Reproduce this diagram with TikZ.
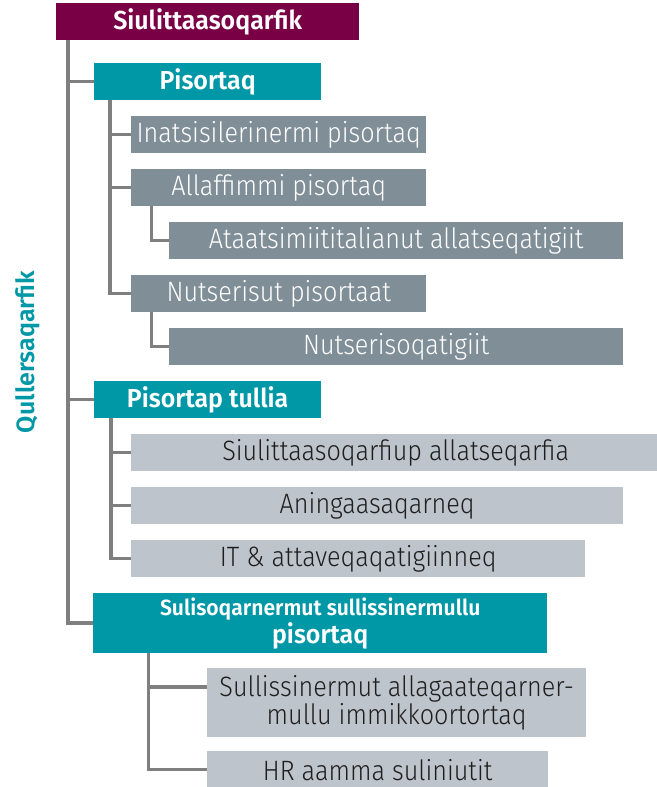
\documentclass[tikz,border=0pt]{standalone}
\usepackage{fontspec}
\setmainfont{Fira Sans}[UprightFont={* Light}, BoldFont={* SemiBold}, FakeStretch=0.9]
\newfontfamily\titlefont{Fira Sans SemiBold}[FakeStretch=0.96]
\newfontfamily\labelfont{Fira Sans SemiBold}
\definecolor{maroon}{HTML}{7A0046}
\definecolor{tealc}{HTML}{0097A6}
\definecolor{dkgray}{HTML}{808E98}
\definecolor{ltgray}{HTML}{BEC4CB}
\definecolor{linec}{HTML}{7F7F7F}
\definecolor{txtdark}{HTML}{1E1E1E}
\tikzset{
  basebox/.style={anchor=north west, inner sep=0pt, align=center, draw=none},
  topbox/.style={basebox, fill=maroon, text=white, font=\titlefont\fontsize{26}{28}\selectfont},
  tealbox/.style={basebox, fill=tealc, text=white, font=\titlefont\fontsize{26}{28}\selectfont},
  dkbox/.style={basebox, fill=dkgray, text=white, font=\fontsize{28}{28}\selectfont},
  ltbox/.style={basebox, fill=ltgray, text=txtdark, font=\fontsize{28}{28}\selectfont},
  conn/.style={draw=linec, line width=3.5pt}
}
\begin{document}
\begin{tikzpicture}[x=1pt,y=-1pt]
\useasboundingbox (0,0) rectangle (656,787);
% boxes
\node[topbox, minimum width=303pt, minimum height=37pt] (top) at (56,3) {Siulittaasoqarfik};
\node[tealbox, minimum width=227pt, minimum height=37pt] (pis) at (94,63) {Pisortaq};
\node[dkbox, minimum width=295pt, minimum height=37pt] (inat) at (131,116) {Inatsisilerinermi pisortaq};
\node[dkbox, minimum width=295pt, minimum height=37pt] (alla) at (131,169) {Allaffimmi pisortaq};
\node[dkbox, minimum width=454pt, minimum height=37pt] (ataa) at (169,222) {Ataatsimiititalianut allatseqatigiit};
\node[dkbox, minimum width=295pt, minimum height=37pt] (nuts) at (131,275) {Nutserisut pisortaat};
\node[dkbox, minimum width=454pt, minimum height=37pt] (nutq) at (169,328) {Nutserisoqatigiit};
\node[tealbox, minimum width=227pt, minimum height=37pt] (tull) at (94,381) {Pisortap tullia};
\node[ltbox, minimum width=529pt, minimum height=37pt] (siul) at (131,434) {Siulittaasoqarfiup allatseqarfia};
\node[ltbox, minimum width=492pt, minimum height=37pt] (anin) at (131,487) {Aningaasaqarneq};
\node[ltbox, minimum width=454pt, minimum height=37pt] (itat) at (131,540) {IT \& attaveqaqatigiinneq};
\node[tealbox, minimum width=454pt, minimum height=60pt] (sul) at (93,593)
  {{\fontsize{22}{26}\selectfont Sulisoqarnermut sullissinermullu}\\pisortaq};
\node[ltbox, minimum width=379pt, minimum height=69pt] (sulls) at (207,668)
  {Sullissinermut allagaateqarner-\\mullu immikkoortortaq};
\node[ltbox, minimum width=341pt, minimum height=37pt] (hr) at (207,751) {HR aamma suliniutit};
% side label
\node[rotate=90, text=tealc, font=\labelfont\fontsize{25}{26}\selectfont, inner sep=0pt] (lbl) at (28,352) {Qullersaqarfik};
% connectors
\draw[conn] ([xshift=12pt]top.south west) |- (pis.west);
\draw[conn] ([xshift=12pt]top.south west) |- (tull.west);
\draw[conn] ([xshift=12pt]top.south west) |- (sul.west);
\draw[conn] ([xshift=16pt]pis.south west) |- (inat.west);
\draw[conn] ([xshift=16pt]pis.south west) |- (alla.west);
\draw[conn] ([xshift=16pt]pis.south west) |- (nuts.west);
\draw[conn] ([xshift=20.5pt]alla.south west) |- (ataa.west);
\draw[conn] ([xshift=20.5pt]nuts.south west) |- (nutq.west);
\draw[conn] ([xshift=17pt]tull.south west) |- (siul.west);
\draw[conn] ([xshift=17pt]tull.south west) |- (anin.west);
\draw[conn] ([xshift=17pt]tull.south west) |- (itat.west);
\draw[conn] ([xshift=55.5pt]sul.south west) |- ([yshift=15.5pt]sulls.west);
\draw[conn] ([xshift=55.5pt]sul.south west) |- (hr.west);
\end{tikzpicture}
\end{document}
